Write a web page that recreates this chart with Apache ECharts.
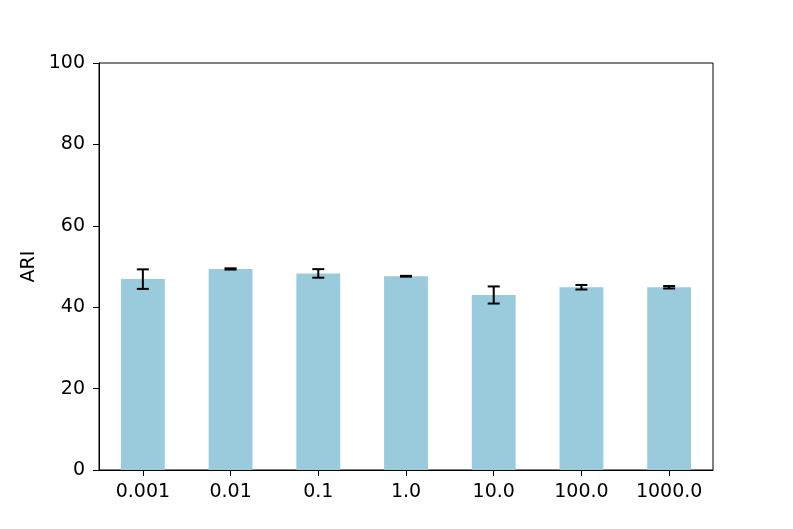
<!DOCTYPE html>
<html><head><meta charset="utf-8">
<script src="https://cdn.jsdelivr.net/npm/echarts@6/dist/echarts.min.js"></script>
<style>html,body{margin:0;padding:0;background:#fff}#c{width:793px;height:529px}</style>
</head><body><div id="c"></div>
<script>
const categories = ['0.001','0.01','0.1','1.0','10.0','100.0','1000.0'];
const values = [46.9, 49.4, 48.3, 47.6, 43.0, 44.9, 44.9];
const errors = [2.4, 0.15, 1.05, 0.1, 2.1, 0.55, 0.3];
const yTicks = [0, 20, 40, 60, 80, 100];

const chart = echarts.init(document.getElementById('c'), null, {renderer:'canvas'});
const font = 'DejaVu Sans';
const errData = values.map((v,i)=>[i, v-errors[i], v+errors[i]]);
chart.setOption({
  animation:false,
  grid:{left:99,right:80,top:63,bottom:59,show:true,borderColor:'#000',borderWidth:1,backgroundColor:'transparent'},
  xAxis:{type:'category',data:categories,
    axisLine:{show:true,lineStyle:{color:'#000',width:1}},
    axisTick:{show:true,alignWithLabel:true,length:6,inside:false,lineStyle:{color:'#000'}},
    axisLabel:{color:'#000',fontFamily:font,fontSize:19,margin:13},
    splitLine:{show:false}},
  yAxis:{type:'value',min:0,max:100,interval:20,
    name:'ARI',nameLocation:'middle',nameGap:60,nameRotate:90,nameMoveOverlap:false,
    nameTextStyle:{color:'#000',fontFamily:font,fontSize:19},
    axisLine:{show:true,lineStyle:{color:'#000',width:1}},
    axisTick:{show:true,length:6,lineStyle:{color:'#000'}},
    axisLabel:{color:'#000',fontFamily:font,fontSize:19,margin:14,
      formatter:v=>yTicks.includes(v)?String(v):''},
    splitLine:{show:false}},
  series:[
    {type:'bar',data:values,barWidth:'50%',itemStyle:{color:'#99cbdd'}},
    {type:'custom',data:errData,z:10,
     renderItem:function(params,api){
       const x=api.value(0);
       const lo=api.coord([x,api.value(1)]);
       const hi=api.coord([x,api.value(2)]);
       const cw=6;
       const style={stroke:'#000',lineWidth:2};
       return {type:'group',children:[
         {type:'line',shape:{x1:lo[0],y1:lo[1],x2:hi[0],y2:hi[1]},style:style},
         {type:'line',shape:{x1:lo[0]-cw,y1:lo[1],x2:lo[0]+cw,y2:lo[1]},style:style},
         {type:'line',shape:{x1:hi[0]-cw,y1:hi[1],x2:hi[0]+cw,y2:hi[1]},style:style}
       ]};
     }}
  ]
});
</script></body></html>
